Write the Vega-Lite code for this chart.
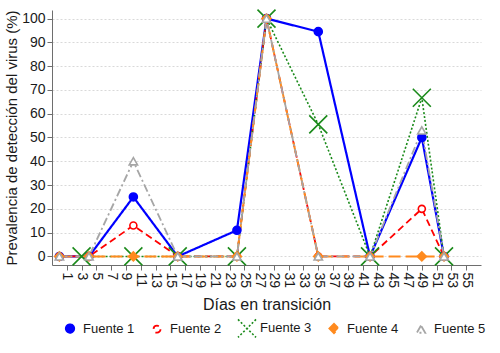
{
  "$schema": "https://vega.github.io/schema/vega-lite/v6.json",
  "autosize": "none",
  "width": 429,
  "height": 255,
  "padding": {"left": 52, "top": 10, "right": 19, "bottom": 88},
  "background": "white",
  "config": {
    "view": {"stroke": null},
    "font": "Liberation Sans",
    "axis": {"labelFont": "Liberation Sans", "titleFont": "Liberation Sans", "labelColor": "#1a1a1a", "titleColor": "#1a1a1a", "titleFontWeight": "normal", "domainColor": "#6e6e6e", "tickColor": "#6e6e6e"}
  },
  "data": {
    "values": [
      {"dia": 0, "serie": "Fuente 1", "valor": 0},
      {"dia": 4, "serie": "Fuente 1", "valor": 0},
      {"dia": 10, "serie": "Fuente 1", "valor": 25},
      {"dia": 16, "serie": "Fuente 1", "valor": 0},
      {"dia": 24, "serie": "Fuente 1", "valor": 11},
      {"dia": 28, "serie": "Fuente 1", "valor": 100},
      {"dia": 35, "serie": "Fuente 1", "valor": 94.5},
      {"dia": 42, "serie": "Fuente 1", "valor": 0},
      {"dia": 49, "serie": "Fuente 1", "valor": 50},
      {"dia": 52, "serie": "Fuente 1", "valor": 0},
      {"dia": 0, "serie": "Fuente 2", "valor": 0},
      {"dia": 4, "serie": "Fuente 2", "valor": 0},
      {"dia": 10, "serie": "Fuente 2", "valor": 13},
      {"dia": 16, "serie": "Fuente 2", "valor": 0},
      {"dia": 24, "serie": "Fuente 2", "valor": 0},
      {"dia": 28, "serie": "Fuente 2", "valor": 100},
      {"dia": 35, "serie": "Fuente 2", "valor": 0},
      {"dia": 42, "serie": "Fuente 2", "valor": 0},
      {"dia": 49, "serie": "Fuente 2", "valor": 20},
      {"dia": 52, "serie": "Fuente 2", "valor": 0},
      {"dia": 3, "serie": "Fuente 3", "valor": 0},
      {"dia": 10, "serie": "Fuente 3", "valor": 0},
      {"dia": 16, "serie": "Fuente 3", "valor": 0},
      {"dia": 24, "serie": "Fuente 3", "valor": 0},
      {"dia": 28, "serie": "Fuente 3", "valor": 100},
      {"dia": 35, "serie": "Fuente 3", "valor": 55.5},
      {"dia": 42, "serie": "Fuente 3", "valor": 0},
      {"dia": 49, "serie": "Fuente 3", "valor": 66.7},
      {"dia": 52, "serie": "Fuente 3", "valor": 0},
      {"dia": 0, "serie": "Fuente 4", "valor": 0},
      {"dia": 4, "serie": "Fuente 4", "valor": 0},
      {"dia": 10, "serie": "Fuente 4", "valor": 0},
      {"dia": 16, "serie": "Fuente 4", "valor": 0},
      {"dia": 24, "serie": "Fuente 4", "valor": 0},
      {"dia": 28, "serie": "Fuente 4", "valor": 100},
      {"dia": 35, "serie": "Fuente 4", "valor": 0},
      {"dia": 42, "serie": "Fuente 4", "valor": 0},
      {"dia": 49, "serie": "Fuente 4", "valor": 0},
      {"dia": 52, "serie": "Fuente 4", "valor": 0},
      {"dia": 0, "serie": "Fuente 5", "valor": 0},
      {"dia": 4, "serie": "Fuente 5", "valor": 0},
      {"dia": 10, "serie": "Fuente 5", "valor": 40},
      {"dia": 16, "serie": "Fuente 5", "valor": 0},
      {"dia": 24, "serie": "Fuente 5", "valor": 0},
      {"dia": 28, "serie": "Fuente 5", "valor": 100},
      {"dia": 35, "serie": "Fuente 5", "valor": 0},
      {"dia": 42, "serie": "Fuente 5", "valor": 0},
      {"dia": 49, "serie": "Fuente 5", "valor": 53},
      {"dia": 52, "serie": "Fuente 5", "valor": 0}
    ]
  },
  "encoding": {
    "x": {
      "field": "dia", "type": "quantitative",
      "scale": {"domain": [-1, 57], "nice": false, "zero": false},
      "axis": {
        "title": "Días en transición", "titleFontSize": 16, "titlePadding": 9,
        "values": [1,3,5,7,9,11,13,15,17,19,21,23,25,27,29,31,33,35,37,39,41,43,45,47,49,51,53,55],
        "labelAngle": 90, "labelFontSize": 14, "labelPadding": 2, "tickSize": 5,
        "grid": false, "labelOverlap": false, "labelFlush": false
      }
    },
    "y": {
      "field": "valor", "type": "quantitative",
      "scale": {"domain": [-3.6, 103.6], "nice": false, "zero": false},
      "axis": {
        "title": "Prevalencia de detección del virus (%)", "titleFontSize": 15, "titlePadding": 2,
        "values": [0,10,20,30,40,50,60,70,80,90,100],
        "labelFontSize": 14, "labelPadding": 2, "tickSize": 5,
        "grid": true, "gridColor": "#d9d9d9", "gridDash": [2, 2], "gridWidth": 1
      }
    }
  },
  "layer": [
    {
      "mark": {"type": "line"},
      "encoding": {
        "color": {
          "field": "serie", "type": "nominal",
          "scale": {"domain": ["Fuente 1","Fuente 2","Fuente 3","Fuente 4","Fuente 5"], "range": ["#0000ff","#ff0000","#1a8a1a","#ff8a1e","#a6a6a6"]},
          "legend": {
            "title": null, "orient": "none", "legendX": 8, "legendY": 308, "direction": "horizontal", "columns": 5,
            "symbolSize": 400, "symbolStrokeWidth": 1.6, "labelFontSize": 13,
            "labelColor": "#1a1a1a", "labelOffset": 3, "columnPadding": 12,
            "encode": {
              "symbols": {
                "update": {
                  "size": {"value": {"expr": "datum.value === 'Fuente 3' ? 324 : datum.value === 'Fuente 4' ? 81 : 64"}},
                  "strokeWidth": {"value": 1.6},
                  "opacity": {"value": 1}
                }
              }
            }
          }
        },
        "strokeDash": {
          "field": "serie", "type": "nominal",
          "scale": {"domain": ["Fuente 1","Fuente 2","Fuente 3","Fuente 4","Fuente 5"], "range": [[1,0],[7,4],[2,2],[12,5],[8,3,2,3]]},
          "legend": null
        },
        "strokeWidth": {
          "field": "serie", "type": "nominal",
          "scale": {"type": "ordinal", "domain": ["Fuente 1","Fuente 2","Fuente 3","Fuente 4","Fuente 5"], "range": [2.2,1.8,1.6,2,1.8]},
          "legend": null
        }
      }
    },
    {
      "mark": {"type": "point", "strokeWidth": 1.6, "opacity": 1},
      "encoding": {
        "shape": {
          "field": "serie", "type": "nominal",
          "scale": {"domain": ["Fuente 1","Fuente 2","Fuente 3","Fuente 4","Fuente 5"], "range": ["circle","circle","M-1,-1L1,1M1,-1L-1,1","diamond","triangle-up"]},
          "legend": null
        },
        "stroke": {
          "field": "serie", "type": "nominal",
          "scale": {"domain": ["Fuente 1","Fuente 2","Fuente 3","Fuente 4","Fuente 5"], "range": ["#0000ff","#ff0000","#1a8a1a","#ff8a1e","#a6a6a6"]},
          "legend": null
        },
        "fill": {
          "field": "serie", "type": "nominal",
          "scale": {"domain": ["Fuente 1","Fuente 2","Fuente 3","Fuente 4","Fuente 5"], "range": ["#0000ff","white","transparent","#ff8a1e","white"]},
          "legend": null
        },
        "size": {
          "field": "serie", "type": "nominal",
          "scale": {"type": "ordinal", "domain": ["Fuente 1","Fuente 2","Fuente 3","Fuente 4","Fuente 5"], "range": [64, 49, 324, 81, 70]},
          "legend": null
        }
      }
    }
  ]
}
